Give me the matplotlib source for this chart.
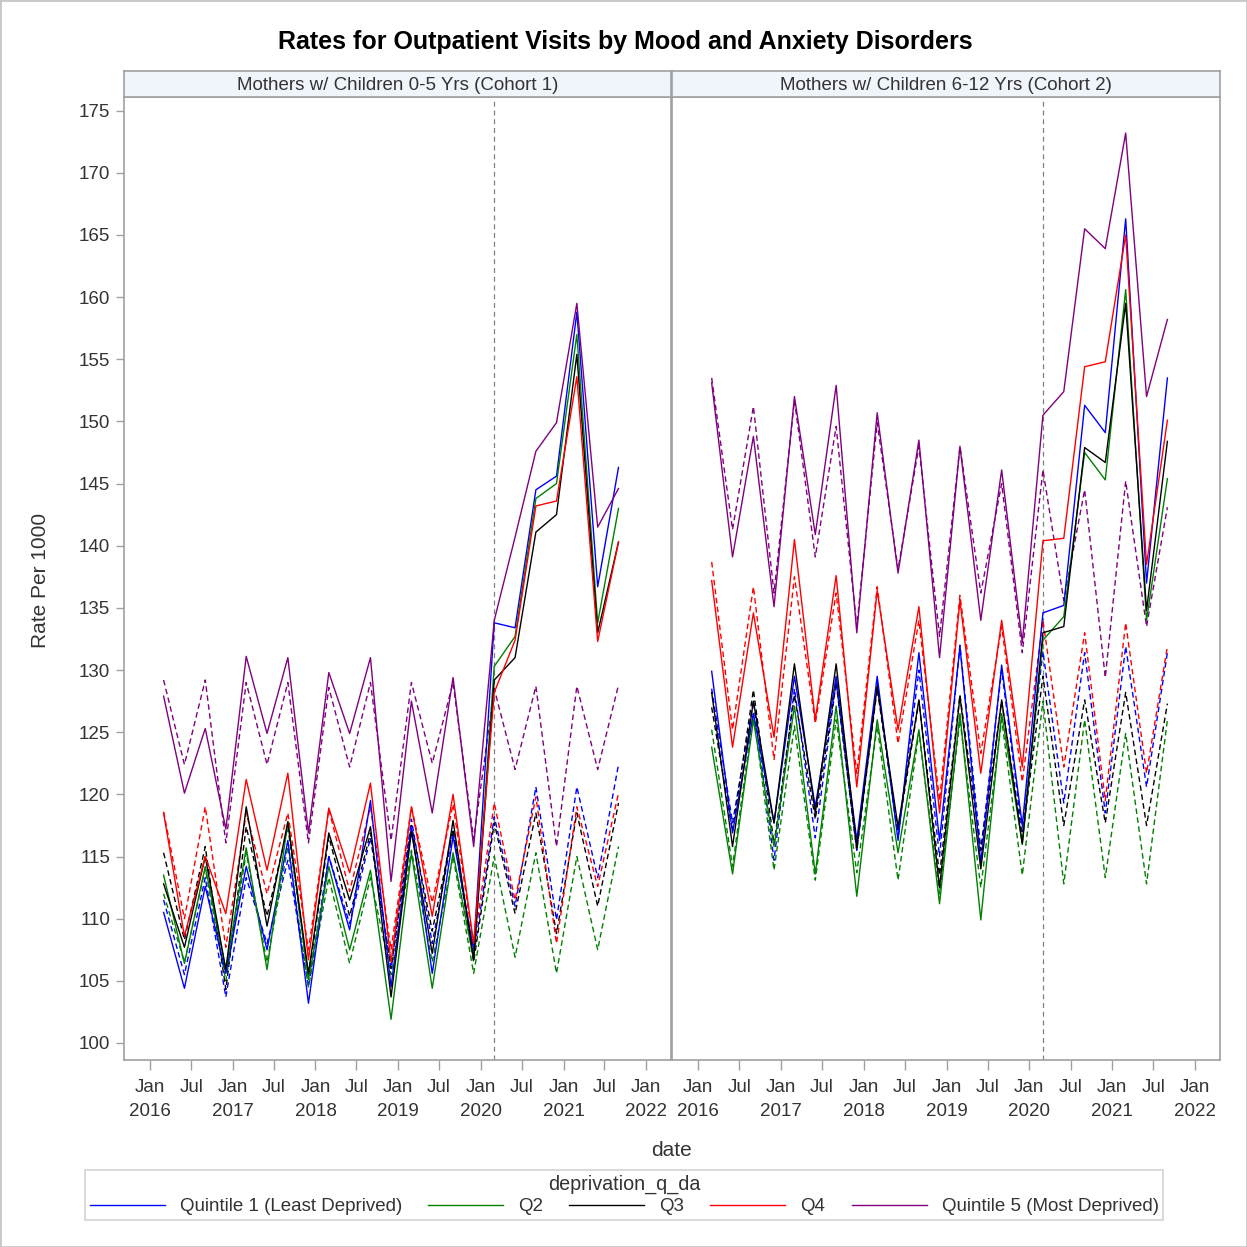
import numpy as np
import pandas as pd
import matplotlib
matplotlib.use("Agg")
import matplotlib.pyplot as plt
from matplotlib.lines import Line2D
from matplotlib.patches import Rectangle

plt.rcParams["font.family"] = ["Liberation Sans", "DejaVu Sans"]

# quarterly points, Mar 2016 .. Sep 2021
dates = pd.date_range("2016-03-01", periods=23, freq="3MS")
covid_start = pd.Timestamp("2020-03-01")

panel_titles = ["Mothers w/ Children 0-5 Yrs (Cohort 1)",
                "Mothers w/ Children 6-12 Yrs (Cohort 2)"]
quintiles = ["Quintile 1 (Least Deprived)", "Q2", "Q3", "Q4",
             "Quintile 5 (Most Deprived)"]
colors = ["#0000ff", "#008000", "#000000", "#ff0000", "#800080"]

# Cohort 1 observed / predicted
c1_q1 = [110.5, 104.4, 112.6, 105.6, 114.2, 107.5, 116.3, 103.2, 115.0, 109.1, 119.5, 104.5,
         117.4, 105.6, 116.6, 107.5, 133.8, 133.4, 144.5, 145.6, 158.8, 136.7, 146.3]
c1_q1_pred = [111.5, 105.5, 113.3, 103.7, 113.3, 108.0, 114.7, 104.5, 115.0, 109.6, 116.5, 106.0,
              118.0, 108.0, 117.0, 107.0, 118.2, 111.0, 120.6, 109.9, 120.6, 113.3, 122.4]
c1_q2 = [113.5, 106.4, 114.2, 105.9, 115.7, 105.9, 117.8, 105.1, 114.2, 107.5, 113.9, 101.9,
         115.3, 104.4, 115.3, 106.7, 130.3, 132.7, 143.8, 145.0, 157.0, 133.8, 143.0]
c1_q2_pred = [112.0, 106.5, 114.0, 105.0, 115.3, 106.5, 115.8, 104.5, 113.3, 106.4, 113.3, 105.5,
              115.5, 106.5, 115.0, 105.6, 115.0, 106.9, 115.3, 105.6, 115.0, 107.5, 115.8]
c1_q3 = [112.8, 107.7, 115.0, 105.9, 119.0, 109.4, 117.8, 105.6, 116.9, 111.5, 117.4, 103.7,
         117.0, 107.2, 117.9, 106.7, 129.2, 131.0, 141.1, 142.5, 155.4, 133.0, 140.3]
c1_q3_pred = [115.3, 108.3, 115.8, 104.3, 117.4, 110.2, 117.4, 105.3, 116.6, 110.2, 116.9, 106.0,
              117.5, 109.0, 117.2, 106.5, 117.7, 110.4, 118.5, 108.8, 118.5, 111.0, 119.3]
c1_q4 = [118.5, 108.6, 115.0, 110.4, 121.2, 113.9, 121.7, 106.7, 118.9, 113.7, 120.9, 106.5,
         119.0, 110.2, 120.0, 108.0, 128.2, 132.4, 143.2, 143.6, 153.6, 132.3, 140.3]
c1_q4_pred = [118.6, 110.0, 119.0, 107.7, 118.5, 112.0, 118.5, 107.5, 118.8, 112.2, 119.0, 107.5,
              119.0, 111.3, 119.2, 107.8, 119.3, 111.5, 119.8, 108.0, 119.0, 112.6, 120.1]
c1_q5 = [127.9, 120.1, 125.3, 117.2, 131.1, 124.9, 131.0, 116.9, 129.8, 124.9, 131.0, 113.0,
         127.5, 118.5, 129.4, 115.8, 134.0, 140.7, 147.6, 149.9, 159.5, 141.5, 144.6]
c1_q5_pred = [129.2, 122.4, 129.2, 116.1, 129.0, 122.4, 129.0, 116.1, 128.6, 122.2, 129.0, 116.3,
              129.0, 122.5, 129.0, 116.4, 128.5, 122.0, 128.7, 115.8, 128.7, 122.0, 128.8]

# Cohort 2 observed / predicted
c2_q1 = [129.9, 116.9, 126.5, 117.7, 129.5, 119.0, 129.5, 116.3, 129.5, 116.3, 131.4, 116.3,
         131.9, 114.5, 130.4, 117.5, 134.6, 135.2, 151.3, 149.1, 166.3, 137.0, 153.5]
c2_q1_pred = [128.5, 117.7, 127.5, 114.7, 128.5, 116.5, 129.0, 115.5, 129.0, 116.5, 130.0, 115.0,
              132.0, 115.5, 130.0, 117.0, 131.5, 119.3, 131.4, 118.5, 131.9, 120.6, 131.4]
c2_q2 = [123.8, 113.6, 126.0, 115.8, 127.1, 113.6, 127.1, 111.8, 126.0, 115.3, 125.2, 111.2,
         126.5, 109.9, 126.5, 116.0, 132.4, 134.3, 147.5, 145.3, 160.6, 134.0, 145.4]
c2_q2_pred = [125.2, 114.2, 126.5, 113.9, 125.5, 113.1, 126.0, 113.7, 125.5, 113.1, 125.0, 112.0,
              126.0, 112.5, 126.0, 113.5, 127.5, 112.8, 126.0, 113.3, 124.9, 112.8, 126.0]
c2_q3 = [128.2, 115.8, 127.5, 117.7, 130.5, 118.5, 130.5, 115.8, 128.7, 117.4, 127.6, 112.5,
         127.9, 114.0, 127.6, 116.0, 133.0, 133.5, 147.9, 146.7, 159.5, 134.8, 148.4]
c2_q3_pred = [127.0, 117.0, 128.4, 116.0, 128.0, 118.0, 129.0, 115.5, 128.5, 117.0, 127.5, 113.5,
              128.0, 115.5, 127.5, 116.5, 129.5, 117.5, 127.6, 117.7, 128.2, 117.5, 127.3]
c2_q4 = [137.2, 123.8, 134.6, 124.6, 140.5, 126.0, 137.6, 120.6, 136.4, 125.2, 135.1, 118.5,
         135.6, 121.7, 134.0, 122.2, 140.4, 140.6, 154.4, 154.8, 165.0, 138.5, 150.1]
c2_q4_pred = [138.7, 125.2, 136.7, 122.8, 137.5, 125.7, 136.2, 121.7, 136.7, 124.1, 134.0, 119.5,
              136.0, 123.3, 133.5, 121.0, 134.0, 122.2, 133.0, 119.5, 133.8, 121.7, 131.9]
c2_q5 = [153.1, 139.1, 148.8, 135.1, 152.0, 140.9, 152.9, 133.0, 150.7, 137.8, 148.5, 131.0,
         148.0, 134.0, 146.1, 132.2, 150.5, 152.4, 165.5, 163.9, 173.2, 152.0, 158.2]
c2_q5_pred = [153.5, 141.3, 151.2, 136.2, 151.7, 139.1, 149.6, 133.5, 149.9, 138.1, 148.0, 132.7,
              148.0, 136.2, 145.0, 131.4, 146.1, 135.6, 144.5, 129.4, 145.2, 133.5, 143.1]

panels = [
    ([c1_q1, c1_q2, c1_q3, c1_q4, c1_q5],
     [c1_q1_pred, c1_q2_pred, c1_q3_pred, c1_q4_pred, c1_q5_pred]),
    ([c2_q1, c2_q2, c2_q3, c2_q4, c2_q5],
     [c2_q1_pred, c2_q2_pred, c2_q3_pred, c2_q4_pred, c2_q5_pred]),
]

W = H = 1247
GRID = "#a0a0a0"
TXT = "#333333"
FS = 13.5


def px_axes(fig, x0, y0, x1, y1):
    return fig.add_axes([x0 / W, 1 - y1 / H, (x1 - x0) / W, (y1 - y0) / H])


fig = plt.figure(figsize=(W / 100, H / 100), dpi=100)
fig.patches.append(Rectangle((0, 0), 1, 1, transform=fig.transFigure,
                             fill=False, edgecolor="#c8c8c8", linewidth=2))
fig.text(625 / W, 1 - 42 / H, "Rates for Outpatient Visits by Mood and Anxiety Disorders",
         ha="center", va="center", fontsize=18, fontweight="bold")

xlim = (pd.Timestamp("2015-09-08"), pd.Timestamp("2022-04-21"))
ticks = [pd.Timestamp(f"{y}-{m:02d}-01") for y in range(2016, 2023) for m in (1, 7)
         if not (y == 2022 and m == 7)]
tick_labels = [f"Jan\n{t.year}" if t.month == 1 else "Jul" for t in ticks]

for k, (xa, xb) in enumerate([(124, 671), (672, 1220)]):
    ax = px_axes(fig, xa, 97, xb, 1060)
    obs, pred = panels[k]
    for q in range(5):
        ax.plot(dates, pred[q], color=colors[q], lw=1.0, ls=(0, (4, 2.5)), zorder=2)
        ax.plot(dates, obs[q], color=colors[q], lw=1.0, zorder=3)
    ax.axvline(covid_start, color="#808080", lw=0.9, ls=(0, (4, 3)), zorder=1)
    ax.set_xlim(xlim)
    ax.set_ylim(98.63, 176.1)
    ax.set_xticks(ticks)
    ax.set_xticklabels(tick_labels, fontsize=FS, color=TXT, linespacing=1.5)
    ax.set_yticks(np.arange(100, 176, 5))
    for s in ax.spines.values():
        s.set_color(GRID)
        s.set_linewidth(1.2)
    ax.tick_params(axis="x", length=7, width=1, color=GRID, pad=7)
    if k == 0:
        ax.tick_params(axis="y", length=6, width=1, color=GRID, labelsize=FS,
                       labelcolor=TXT, pad=4)
    else:
        ax.tick_params(axis="y", left=False, labelleft=False)

    # panel header
    hx = px_axes(fig, xa, 71, xb, 97)
    hx.set_xticks([]); hx.set_yticks([])
    hx.set_facecolor("#f0f4fb")
    for s in hx.spines.values():
        s.set_color(GRID)
        s.set_linewidth(1.2)
    hx.text(0.5, 0.45, panel_titles[k], ha="center", va="center",
            fontsize=FS, color=TXT, transform=hx.transAxes)

fig.text(671 / W, 1 - 1151 / H, "date", ha="center", va="center", fontsize=15, color=TXT)
fig.text(41 / W, 1 - 580 / H, "Rate Per 1000", ha="center", va="center",
         rotation=90, fontsize=15, color=TXT)

handles = [Line2D([], [], color=c, lw=1.0) for c in colors]
leg = fig.legend(handles, quintiles, loc="center", ncol=5,
                 bbox_to_anchor=(624 / W, 1 - 1195 / H), fontsize=FS,
                 title="deprivation_q_da", title_fontsize=14.2,
                 frameon=True, fancybox=False, handlelength=4.0,
                 columnspacing=1.4, handletextpad=0.8, borderpad=0.25,
                 borderaxespad=0, labelspacing=0.2)
leg.get_frame().set_edgecolor("#c8c8c8")
leg.get_frame().set_linewidth(1.2)
for t in leg.get_texts():
    t.set_color(TXT)
leg.get_title().set_color(TXT)

fig.savefig("out.png", dpi=100)
